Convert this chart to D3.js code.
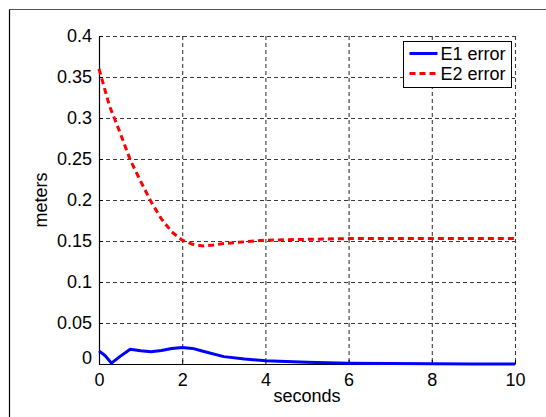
<!DOCTYPE html>
<html>
<head>
<meta charset="utf-8">
<script src="https://cdn.jsdelivr.net/npm/d3@7"></script>
<style>
  body { margin: 0; background: #fff; }
  text { font-family: "Liberation Sans", Arial, sans-serif; fill: #000; }
</style>
</head>
<body>
<div id="chart"></div>
<script>
var svgWidth = 546;
var svgHeight = 417;

// data
var e1Time = [0, 0.15, 0.3, 0.5, 0.75, 1.0, 1.25, 1.5, 1.75, 2.0, 2.25, 2.5, 3.0, 3.5, 4.0, 4.5, 5.0, 6.0, 7.0, 8.0, 9.0, 10.0];
var e1Value = [0.016, 0.010, 0.001, 0.009, 0.018, 0.0162, 0.015, 0.0165, 0.019, 0.020, 0.019, 0.0155, 0.009, 0.006, 0.004, 0.003, 0.002, 0.001, 0.0005, 0.0002, 0.0001, 0.0];
var e2Time = [0, 0.25, 0.5, 0.75, 1.0, 1.25, 1.5, 1.75, 2.0, 2.25, 2.5, 2.75, 3.0, 3.5, 4.0, 5.0, 6.0, 7.0, 8.0, 9.0, 10.0];
var e2Value = [0.360, 0.315, 0.283, 0.249, 0.223, 0.198, 0.177, 0.161, 0.151, 0.146, 0.144, 0.145, 0.147, 0.149, 0.151, 0.152, 0.153, 0.153, 0.153, 0.153, 0.153];
var xTicks = [0, 2, 4, 6, 8, 10];
var yTicks = [0, 0.05, 0.1, 0.15, 0.2, 0.25, 0.3, 0.35, 0.4];
var seriesNames = ["E1 error", "E2 error"];

var margin = { top: 36, right: 31, bottom: 53, left: 99 };
var width = svgWidth - margin.left - margin.right;
var height = svgHeight - margin.top - margin.bottom;

var svg = d3.select("#chart")
  .append("svg")
  .attr("width", svgWidth)
  .attr("height", svgHeight);

// figure frame (only top and left edges show)
svg.append("line").attr("x1", 9.5).attr("x2", svgWidth).attr("y1", 9.5).attr("y2", 9.5)
  .attr("stroke", "#555").attr("stroke-width", 1.2);
svg.append("line").attr("x1", 9.5).attr("x2", 9.5).attr("y1", 9.5).attr("y2", svgHeight)
  .attr("stroke", "#000").attr("stroke-width", 1.2);

var chartGroup = svg.append("g")
  .attr("transform", `translate(${margin.left}, ${margin.top})`);

var xScale = d3.scaleLinear().domain([0, 10]).range([0, width]);
var yScale = d3.scaleLinear().domain([0, 0.4]).range([height, 0]);

// grid
var grid = chartGroup.append("g")
  .attr("stroke", "#3a3a3a")
  .attr("stroke-width", 1.1)
  .attr("stroke-dasharray", "4,3");
grid.selectAll(".gx")
  .data(xTicks.slice(1))
  .enter().append("line")
  .attr("x1", d => xScale(d) + 0.5).attr("x2", d => xScale(d) + 0.5)
  .attr("y1", 0).attr("y2", height);
grid.selectAll(".gy")
  .data(yTicks.slice(1))
  .enter().append("line")
  .attr("x1", 0).attr("x2", width)
  .attr("y1", d => yScale(d) + 0.5).attr("y2", d => yScale(d) + 0.5);

// axes
var xAxis = d3.axisBottom(xScale).tickValues(xTicks).tickSizeInner(-4).tickSizeOuter(0).tickPadding(8);
var yAxis = d3.axisLeft(yScale).tickValues(yTicks).tickSizeInner(-4).tickSizeOuter(0).tickPadding(7)
  .tickFormat(d => d3.format("")(+d.toFixed(2)));

var gx = chartGroup.append("g")
  .attr("transform", `translate(0,${height})`)
  .call(xAxis);
var gy = chartGroup.append("g")
  .call(yAxis);

[gx, gy].forEach(function(g) {
  g.select(".domain").attr("stroke", "#000").attr("stroke-width", 1.2);
  g.selectAll(".tick line").attr("stroke", "#000");
  g.selectAll(".tick text").attr("font-size", 18).attr("font-family", "Liberation Sans, Arial, sans-serif");
});
gx.selectAll(".tick text").attr("dy", "0.8em");
gy.selectAll(".tick text").filter(d => d === 0).attr("dy", "-0.05em");

// lines
var line = d3.line()
  .x(d => xScale(d[0]))
  .y(d => yScale(d[1]));

chartGroup.append("path")
  .datum(e1Time.map((t, i) => [t, e1Value[i]]))
  .attr("fill", "none")
  .attr("stroke", "#0000ff")
  .attr("stroke-width", 3)
  .attr("stroke-linejoin", "round")
  .attr("d", line);

chartGroup.append("path")
  .datum(e2Time.map((t, i) => [t, e2Value[i]]))
  .attr("fill", "none")
  .attr("stroke", "#ff0000")
  .attr("stroke-width", 3)
  .attr("stroke-dasharray", "6,4")
  .attr("d", line);

// labels
chartGroup.append("text")
  .attr("transform", "rotate(-90)")
  .attr("x", -height / 2)
  .attr("y", -52)
  .attr("text-anchor", "middle")
  .attr("font-size", 18)
  .text("meters");

chartGroup.append("text")
  .attr("x", width / 2)
  .attr("y", height + 38)
  .attr("text-anchor", "middle")
  .attr("font-size", 18)
  .text("seconds");

// legend
var legend = svg.append("g").attr("transform", "translate(403.5, 41.5)");
legend.append("rect")
  .attr("width", 108).attr("height", 46)
  .attr("fill", "#fff").attr("stroke", "#000").attr("stroke-width", 1);
var legendColors = ["#0000ff", "#ff0000"];
var legendDash = [null, "6,4"];
seriesNames.forEach(function(name, i) {
  legend.append("line")
    .attr("x1", 6).attr("x2", 34)
    .attr("y1", 12 + i * 20).attr("y2", 12 + i * 20)
    .attr("stroke", legendColors[i]).attr("stroke-width", 3)
    .attr("stroke-dasharray", legendDash[i]);
  legend.append("text")
    .attr("x", 37).attr("y", 12 + i * 20)
    .attr("dy", "0.35em")
    .attr("font-size", 18)
    .text(name);
});
</script>
</body>
</html>
